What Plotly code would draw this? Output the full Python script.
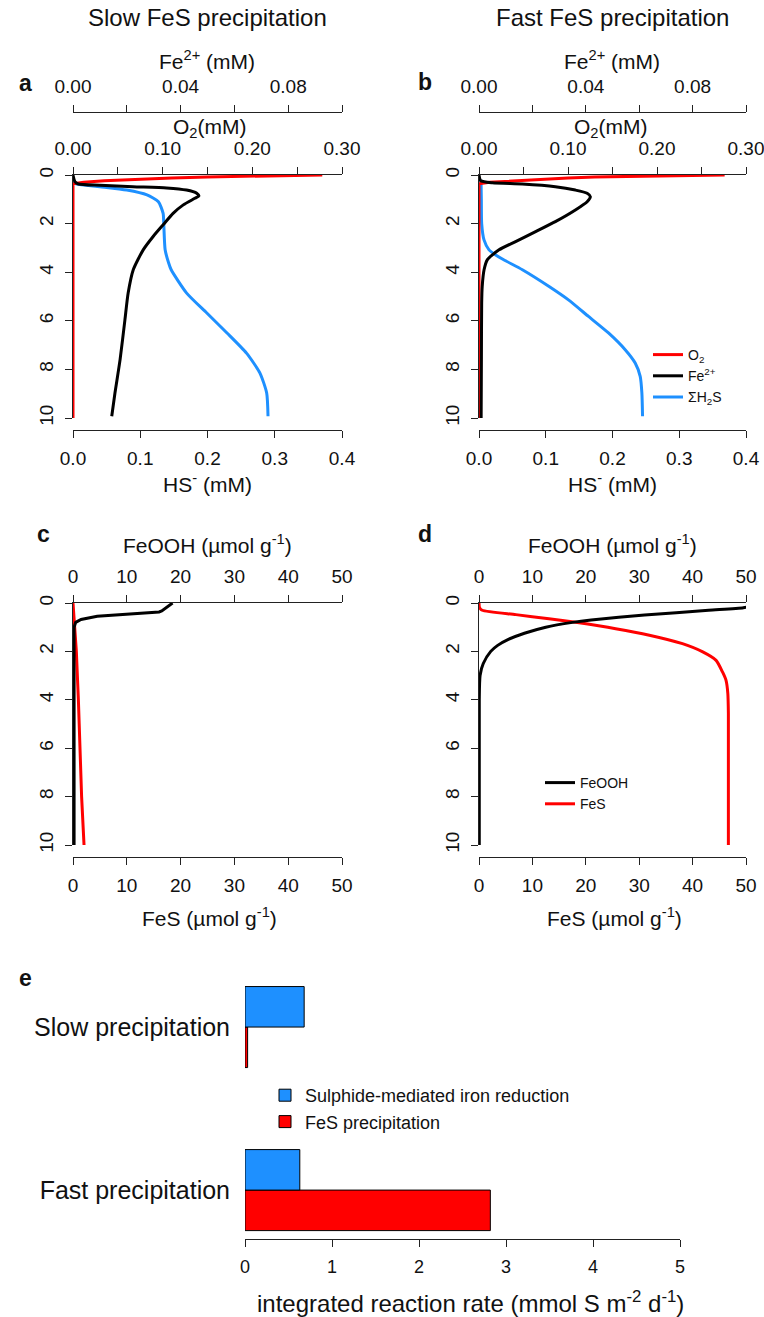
import plotly.graph_objects as go

# ---------------- data ----------------
# Panel a : slow FeS precipitation (depth in cm)
slow_o2_depth = [0, 0.02, 0.05, 0.08, 0.12, 0.18, 0.24, 0.3, 0.36, 10]
slow_o2 = [0.278, 0.24, 0.19, 0.15, 0.11, 0.07, 0.035, 0.012, 0.0, 0.0]
slow_fe_depth = [0, 0.27, 0.37, 0.42, 0.48, 0.53, 0.62, 0.75, 0.86, 0.96, 1.23, 1.58,
                 2.05, 2.53, 3.08, 3.9, 4.86, 5.96, 7.6, 8.97, 9.93]
slow_fe = [0.0, 0.0007, 0.002, 0.010, 0.0223, 0.0348, 0.0422, 0.046, 0.0468, 0.0453, 0.041,
           0.0372, 0.0335, 0.0298, 0.0261, 0.0224, 0.0205, 0.0193, 0.0175, 0.0156, 0.0144]
slow_hs_depth = [0.3, 0.37, 0.48, 0.62, 0.82, 1.1, 1.58, 2.05, 3.08, 3.6, 3.9, 4.86, 5.68,
                 6.5, 7.33, 8.15, 8.97, 9.93]
slow_hs = [0.0, 0.0055, 0.040, 0.080, 0.110, 0.127, 0.134, 0.135, 0.137, 0.142, 0.146, 0.169,
           0.199, 0.229, 0.258, 0.278, 0.288, 0.290]

# Panel b : fast FeS precipitation
fast_o2_depth = [0, 0.02, 0.05, 0.08, 0.12, 0.18, 0.24, 0.3, 0.36, 10]
fast_o2 = [0.276, 0.23, 0.17, 0.13, 0.10, 0.07, 0.035, 0.012, 0.0, 0.0]
fast_fe_depth = [0, 0.23, 0.32, 0.37, 0.48, 0.62, 0.75, 0.89, 1.10, 1.44, 1.92, 2.33, 2.74,
                 3.08, 3.49, 3.9, 4.59, 5.27, 7.6, 10]
fast_fe = [0.0, 0.0006, 0.005, 0.0162, 0.0286, 0.0361, 0.0405, 0.0417, 0.0405, 0.0361, 0.0286,
           0.0212, 0.0137, 0.0075, 0.0031, 0.0019, 0.0012, 0.001, 0.0009, 0.0008]
fast_hs_depth = [0.2, 1.0, 2.0, 2.67, 3.08, 3.29, 3.49, 3.9, 4.59, 5.14, 5.82, 6.5, 7.19,
                 7.74, 8.29, 8.97, 9.93]
fast_hs = [0.003, 0.0035, 0.004, 0.0075, 0.015, 0.025, 0.037, 0.065, 0.105, 0.134, 0.164,
           0.194, 0.219, 0.234, 0.2415, 0.244, 0.245]

# Panel c : slow, solid phases (umol/g)
slow_feooh_depth = [0, 0.14, 0.33, 0.37, 0.45, 0.55, 0.68, 0.8, 1.0, 10]
slow_feooh = [18.5, 17.7, 16.5, 16.0, 10.0, 4.5, 1.5, 0.5, 0.2, 0.2]
slow_fes_depth = [0, 1, 2, 4, 6, 8, 10]
slow_fes = [0.0, 0.37, 0.62, 1.0, 1.25, 1.6, 2.05]

# Panel d : fast, solid phases
fast_feooh_depth = [0, 0.1, 0.2, 0.3, 0.5, 0.7, 0.8, 1.0, 1.25, 1.5, 1.75, 2.0, 2.5, 3.0, 4.0, 10]
fast_feooh = [51.5, 51.0, 49.5, 43, 31, 21, 17.5, 12.5, 8.5, 5.5, 3.5, 2.2, 0.8, 0.2, 0.05, 0.05]
fast_fes_depth = [0, 0.19, 0.30, 0.48, 0.65, 0.8, 1.06, 1.33, 1.68, 2.02, 2.37, 2.85, 3.19,
                  3.74, 4.57, 10]
fast_fes = [0.0, 0.1, 0.6, 6.9, 13.1, 18.1, 25.6, 31.9, 38.1, 41.9, 44.4, 45.6, 46.25, 46.6,
            46.7, 46.7]

# Panel e : integrated reaction rates (mmol S m-2 d-1)
rate_categories = ["Slow precipitation", "Fast precipitation"]
rate_sulphide_iron_reduction = [0.68, 0.63]
rate_fes_precipitation = [0.03, 2.82]

# tick definitions
hs_ticks = [0, 0.1, 0.2, 0.3, 0.4]
hs_ticktext = ["0.0", "0.1", "0.2", "0.3", "0.4"]
o2_ticks = [0, 0.05, 0.1, 0.15, 0.2, 0.25, 0.3]
o2_ticktext = ["0.00", "", "0.10", "", "0.20", "", "0.30"]
fe_ticks = [0, 0.02, 0.04, 0.06, 0.08, 0.1]
fe_ticktext = ["0.00", "", "0.04", "", "0.08", ""]
solid_ticks = [0, 10, 20, 30, 40, 50]
depth_ticks = [0, 2, 4, 6, 8, 10]
rate_ticks = [0, 1, 2, 3, 4, 5]

# ---------------- styling ----------------
W, H = 764, 1317
FONT = "Liberation Sans, Arial, Helvetica, sans-serif"
AX = "#222222"
RED = "#FF0000"
BLUE = "#1E90FF"
BLACK = "#000000"
LW = 3


def px(x):
    return x / W


def py(y):
    return 1 - y / H


common = dict(showline=True, linecolor=AX, linewidth=1, ticks="outside", ticklen=7,
              tickcolor=AX, tickwidth=1, showgrid=False, zeroline=False, automargin=False,
              ticklabeloverflow="allow",
              tickfont=dict(size=19, color="#111"), fixedrange=True)

fig = go.Figure()


def line(x, y, color, xa, ya, name, legend=None, rank=None, smooth=False):
    ln = dict(color=color, width=LW)
    if smooth:
        ln.update(shape="spline", smoothing=0.6)
    fig.add_trace(go.Scatter(x=x, y=y, mode="lines", line=ln,
                             xaxis=xa, yaxis=ya, name=name,
                             showlegend=legend is not None,
                             legend=legend if legend else "legend",
                             legendrank=rank if rank else 1000))


# panel a
line(slow_fe, slow_fe_depth, BLACK, "x3", "y", "Fe<sup>2+</sup>", smooth=True)
line(slow_hs, slow_hs_depth, BLUE, "x", "y", "ΣH<sub>2</sub>S", smooth=True)
line(slow_o2, slow_o2_depth, RED, "x2", "y", "O<sub>2</sub>")
# panel b
line(fast_fe, fast_fe_depth, BLACK, "x6", "y2", "Fe<sup>2+</sup>", "legend", 2, smooth=True)
line(fast_hs, fast_hs_depth, BLUE, "x4", "y2", "ΣH<sub>2</sub>S", "legend", 3, smooth=True)
line(fast_o2, fast_o2_depth, RED, "x5", "y2", "O<sub>2</sub>", "legend", 1)
# panel c
line(slow_feooh, slow_feooh_depth, BLACK, "x8", "y3", "FeOOH")
line(slow_fes, slow_fes_depth, RED, "x7", "y3", "FeS")
# panel d
line(fast_feooh, fast_feooh_depth, BLACK, "x10", "y4", "FeOOH", "legend2", 1, smooth=True)
line(fast_fes, fast_fes_depth, RED, "x9", "y4", "FeS", "legend2", 2, smooth=True)

# panel e (red first so that it sits below the blue bar in each group)
fig.add_trace(go.Bar(y=rate_categories, x=rate_fes_precipitation, orientation="h",
                     name="FeS precipitation", marker=dict(color=RED, line=dict(color=BLACK, width=1)),
                     xaxis="x11", yaxis="y5", legend="legend3"))
fig.add_trace(go.Bar(y=rate_categories, x=rate_sulphide_iron_reduction, orientation="h",
                     name="Sulphide-mediated iron reduction",
                     marker=dict(color=BLUE, line=dict(color=BLACK, width=1)),
                     xaxis="x11", yaxis="y5", legend="legend3"))

STAND = 4
dom_a = [px(73), px(342)]
dom_b = [px(479), px(746)]


def yax(top, bottom, anchor):
    return dict(common, domain=[py(bottom), py(top)], range=[10, 0], tickvals=depth_ticks,
                ticktext=[str(t) for t in depth_ticks], anchor=anchor, tickangle=-90,
                ticklabelstandoff=STAND)


layout = dict(
    width=W, height=H, autosize=False,
    margin=dict(l=0, r=0, t=0, b=0, pad=0, autoexpand=False),
    paper_bgcolor="white", plot_bgcolor="white",
    font=dict(family=FONT, color="#111"),
    barmode="group", bargap=0.503, bargroupgap=0,
    # panel a
    xaxis=dict(common, domain=dom_a, range=[0, 0.4], tickvals=hs_ticks, ticktext=hs_ticktext,
               anchor="free", position=py(430), side="bottom", ticklabelstandoff=STAND),
    xaxis2=dict(common, domain=dom_a, range=[0, 0.3], tickvals=o2_ticks, ticktext=o2_ticktext,
                anchor="y", overlaying="x", side="top", ticklabelstandoff=STAND),
    xaxis3=dict(common, domain=dom_a, range=[0, 0.1], tickvals=fe_ticks, ticktext=fe_ticktext,
                anchor="free", position=py(112), overlaying="x", side="top", ticklabelstandoff=STAND),
    yaxis=yax(175, 418, "x"),
    # panel b
    xaxis4=dict(common, domain=dom_b, range=[0, 0.4], tickvals=hs_ticks, ticktext=hs_ticktext,
                anchor="free", position=py(430), side="bottom", ticklabelstandoff=STAND),
    xaxis5=dict(common, domain=dom_b, range=[0, 0.3], tickvals=o2_ticks, ticktext=o2_ticktext,
                anchor="y2", overlaying="x4", side="top", ticklabelstandoff=STAND),
    xaxis6=dict(common, domain=dom_b, range=[0, 0.1], tickvals=fe_ticks, ticktext=fe_ticktext,
                anchor="free", position=py(112), overlaying="x4", side="top", ticklabelstandoff=STAND),
    yaxis2=yax(175, 418, "x4"),
    # panel c
    xaxis7=dict(common, domain=dom_a, range=[0, 50], tickvals=solid_ticks,
                anchor="free", position=py(857), side="bottom", ticklabelstandoff=STAND),
    xaxis8=dict(common, domain=dom_a, range=[0, 50], tickvals=solid_ticks,
                anchor="y3", overlaying="x7", side="top", ticklabelstandoff=STAND),
    yaxis3=yax(603, 845, "x7"),
    # panel d
    xaxis9=dict(common, domain=dom_b, range=[0, 50], tickvals=solid_ticks,
                anchor="free", position=py(857), side="bottom", ticklabelstandoff=STAND),
    xaxis10=dict(common, domain=dom_b, range=[0, 50], tickvals=solid_ticks,
                 anchor="y4", overlaying="x9", side="top", ticklabelstandoff=STAND),
    yaxis4=yax(603, 845, "x9"),
    # panel e
    xaxis11=dict(common, domain=[px(245), px(680)], range=[0, 5], tickvals=rate_ticks,
                 anchor="y5", side="bottom", ticklabelstandoff=STAND,
                 tickfont=dict(size=18, color="#111")),
    yaxis5=dict(domain=[py(1239), py(970)], range=[-0.3, 1.35], type="category",
                categoryorder="array", categoryarray=["Fast precipitation", "Slow precipitation"],
                showline=False, ticks="", showgrid=False, zeroline=False, anchor="x11",
                automargin=False,
                tickfont=dict(size=25, color="#111"), ticklabelstandoff=14, fixedrange=True),
    legend=dict(x=px(648), y=py(339), xanchor="left", yanchor="top", bgcolor="rgba(0,0,0,0)",
                font=dict(size=14), itemwidth=30, tracegroupgap=0),
    legend2=dict(x=px(540), y=py(767), xanchor="left", yanchor="top", bgcolor="rgba(0,0,0,0)",
                 font=dict(size=14), itemwidth=30),
    legend3=dict(x=px(265), y=py(1077), xanchor="left", yanchor="top", bgcolor="rgba(0,0,0,0)",
                 font=dict(size=18), traceorder="reversed", itemwidth=30),
)
fig.update_layout(**layout)

annotations = [
    # headings
    ("Slow FeS precipitation", 207, 18, 24, False),
    ("Fast FeS precipitation", 612, 18, 24, False),
    # panel letters
    ("a", 25, 83, 23, True), ("b", 425, 82, 23, True),
    ("c", 43, 534, 23, True), ("d", 425, 534, 23, True),
    ("e", 25, 978, 23, True),
    # axis titles
    ("Fe<sup>2+</sup> (mM)", 207, 60, 21, False),
    ("Fe<sup>2+</sup> (mM)", 612, 60, 21, False),
    ("O<sub>2</sub>(mM)", 210, 128, 21, False),
    ("O<sub>2</sub>(mM)", 611, 128, 21, False),
    ("HS<sup>-</sup> (mM)", 207, 483, 21, False),
    ("HS<sup>-</sup> (mM)", 612, 483, 21, False),
    ("FeOOH (µmol g<sup>-1</sup>)", 207, 544, 21, False),
    ("FeOOH (µmol g<sup>-1</sup>)", 612, 544, 21, False),
    ("FeS (µmol g<sup>-1</sup>)", 209, 917, 21, False),
    ("FeS (µmol g<sup>-1</sup>)", 614, 917, 21, False),
    ("integrated reaction rate (mmol S m<sup>-2</sup> d<sup>-1</sup>)", 470, 1302, 24, False),
]
for text, x, y, size, bold in annotations:
    fig.add_annotation(text=f"<b>{text}</b>" if bold else text, x=px(x), y=py(y),
                       xref="paper", yref="paper", showarrow=False, xanchor="center",
                       yanchor="middle", font=dict(size=size, color="#111", family=FONT))

fig.write_html("out.html")
